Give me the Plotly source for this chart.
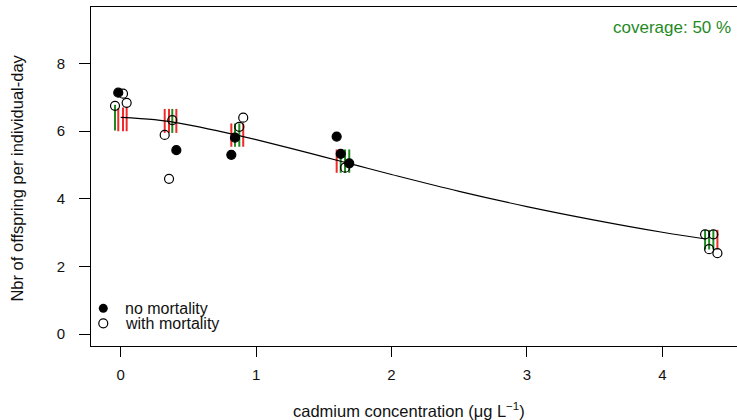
import plotly.graph_objects as go

# ---- data ----
# observed points (x slightly jittered as in the reference)
obs_x = [-0.042, -0.018, 0.017, 0.044,
         0.325, 0.357, 0.381, 0.411,
         0.817, 0.844, 0.876, 0.905,
         1.595, 1.625, 1.657, 1.688,
         4.316, 4.346, 4.377, 4.407]
obs_y = [6.75, 7.14, 7.11, 6.84,
         5.89, 4.59, 6.33, 5.44,
         5.30, 5.81, 6.13, 6.40,
         5.84, 5.33, 4.92, 5.05,
         2.95, 2.51, 2.95, 2.39]
obs_mort = ["with", "no", "with", "with",
            "with", "with", "with", "no",
            "no", "no", "with", "with",
            "no", "no", "with", "no",
            "with", "with", "with", "with"]
# posterior predictive intervals per observation
pi_low = [6.02, 6.00, 6.00, 6.00,
          5.95, 5.95, 5.95, 5.95,
          5.54, 5.54, 5.54, 5.54,
          4.77, 4.77, 4.77, 4.77,
          2.50, 2.50, 2.50, 2.50]
pi_high = [6.78, 6.68, 6.70, 6.72,
           6.66, 6.66, 6.66, 6.66,
           6.23, 6.23, 6.23, 6.23,
           5.46, 5.46, 5.46, 5.46,
           3.08, 3.08, 3.08, 3.08]
# fitted curve
curve_x = [0, 0.25, 0.5, 0.75, 1.0, 1.25, 1.5, 1.75, 2.0, 2.5, 3.0, 3.5, 4.0, 4.32]
curve_y = [6.41, 6.34, 6.19, 5.98, 5.75, 5.50, 5.24, 4.98, 4.72, 4.22, 3.77, 3.37, 3.01, 2.81]

coverage_label = "coverage: 50 %"
legend_labels = ["no mortality", "with mortality"]
x_ticks = [0, 1, 2, 3, 4]
y_ticks = [0, 2, 4, 6, 8]

RED = "#f02a2a"
GREEN = "#1f8a1f"
FONT = "Liberation Sans, Arial, sans-serif"

fig = go.Figure()

# interval segments
for col, inside in [(GREEN, True), (RED, False)]:
    xs, ys = [], []
    for x, y, lo, hi in zip(obs_x, obs_y, pi_low, pi_high):
        if (lo <= y <= hi) == inside:
            xs += [x, x, None]
            ys += [lo, hi, None]
    fig.add_trace(go.Scatter(x=xs, y=ys, mode="lines",
                             line=dict(color=col, width=2),
                             showlegend=False, hoverinfo="skip"))

# fitted curve
fig.add_trace(go.Scatter(x=curve_x, y=curve_y, mode="lines", line_shape="spline",
                         line=dict(color="black", width=1.2), showlegend=False))

# points
for kind, sym in [("with", "circle-open"), ("no", "circle")]:
    xs = [x for x, m in zip(obs_x, obs_mort) if m == kind]
    ys = [y for y, m in zip(obs_y, obs_mort) if m == kind]
    fig.add_trace(go.Scatter(x=xs, y=ys, mode="markers",
                             marker=dict(symbol=sym, size=9, color="black",
                                         line=dict(color="black", width=1.2)),
                             showlegend=False))

# manual legend symbols on overlay axis
fig.add_trace(go.Scatter(x=[0.019], y=[0.111], mode="markers", xaxis="x2", yaxis="y2",
                         marker=dict(symbol="circle", size=9, color="black"),
                         showlegend=False))
fig.add_trace(go.Scatter(x=[0.019], y=[0.067], mode="markers", xaxis="x2", yaxis="y2",
                         marker=dict(symbol="circle-open", size=9, color="black",
                                     line=dict(color="black", width=1.2)),
                         showlegend=False))

fig.update_layout(
    width=737, height=420,
    margin=dict(l=91, r=0, t=7, b=74),
    paper_bgcolor="white", plot_bgcolor="white",
    font=dict(family=FONT, color="#111"),
    xaxis=dict(range=[-0.2193, 4.5517], tickvals=x_ticks, ticks="outside", ticklen=10,
               tickcolor="black", showline=True, linecolor="black", linewidth=1,
               mirror=True, showgrid=False, zeroline=False, ticklabelstandoff=5,
               tickfont=dict(size=15, family=FONT, color="#111")),
    yaxis=dict(range=[-0.355, 9.675], tickvals=y_ticks, ticks="outside", ticklen=11,
               tickcolor="black", showline=True, linecolor="black", linewidth=1,
               showgrid=False, zeroline=False, ticklabelstandoff=11,
               tickfont=dict(size=15, family=FONT, color="#111")),
    xaxis2=dict(range=[0, 1], overlaying="x", visible=False),
    yaxis2=dict(range=[0, 1], overlaying="y", visible=False),
    annotations=[
        dict(text="cadmium concentration (μg L<sup>−1</sup>)", xref="paper", yref="paper",
             x=0.4915, y=-0.19, xanchor="center", yanchor="middle", showarrow=False,
             font=dict(size=16.5, family=FONT, color="#111")),
        dict(text="Nbr of offspring per individual-day", xref="paper", yref="paper",
             x=-0.114, y=0.495, xanchor="center", yanchor="middle", showarrow=False,
             textangle=-90, font=dict(size=16.5, family=FONT, color="#111")),
        dict(text=coverage_label, xref="paper", yref="paper", x=0.994, y=0.941,
             xanchor="right", yanchor="middle", showarrow=False,
             font=dict(size=17, family=FONT, color=GREEN)),
        dict(text=legend_labels[0], xref="paper", yref="paper", x=0.05, y=0.111,
             xanchor="left", yanchor="middle", showarrow=False,
             font=dict(size=16, family=FONT, color="#111")),
        dict(text=legend_labels[1], xref="paper", yref="paper", x=0.05, y=0.065,
             xanchor="left", yanchor="middle", showarrow=False,
             font=dict(size=16, family=FONT, color="#111")),
    ],
)

fig.write_html("out.html")
